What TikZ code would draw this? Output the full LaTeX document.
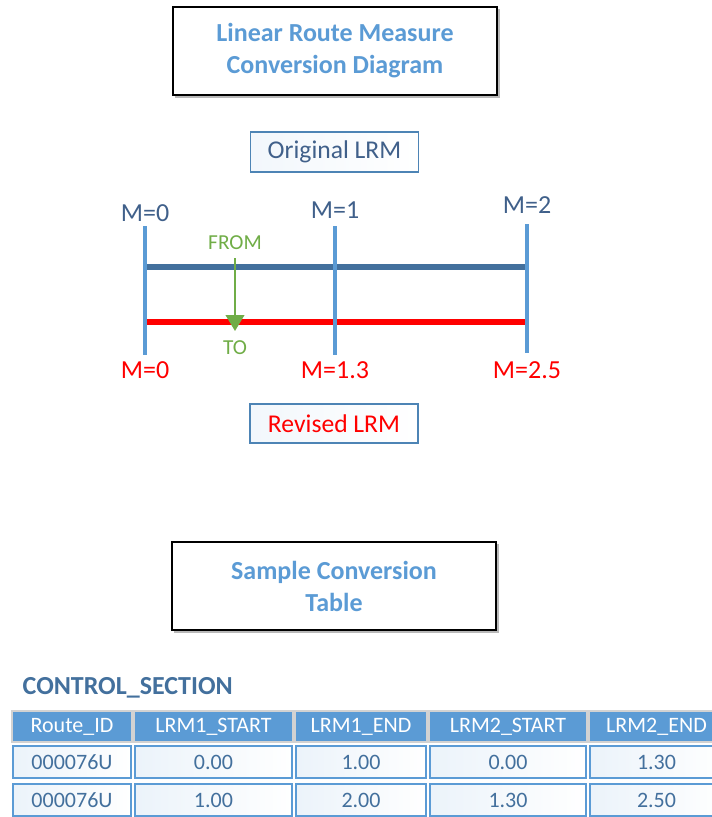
\documentclass[tikz,border=0pt]{standalone}
\usepackage{fontspec}
\setmainfont{Carlito}
\usetikzlibrary{arrows.meta}
\definecolor{lblue}{RGB}{91,155,213}
\definecolor{sblue}{RGB}{67,112,157}
\definecolor{tblue}{RGB}{64,96,138}
\definecolor{ggreen}{RGB}{112,173,71}
\definecolor{rred}{RGB}{255,0,0}
\tikzset{
  bigbox/.style={draw=black, line width=1.5pt, fill=white, minimum width=243pt, minimum height=66pt, align=center, text=lblue, font=\fontsize{19.5}{24}\selectfont\bfseries},
  lrmbox/.style={draw=lblue!85!black, line width=1.3pt, left color=lblue!8, right color=white, minimum width=126pt, minimum height=29.5pt, font=\fontsize{19.2}{22}\selectfont},
  mlab/.style={font=\fontsize{19.5}{22}\selectfont},
  small/.style={font=\fontsize{16}{18}\selectfont, text=ggreen},
  tick/.style={draw=lblue, line width=2.6pt},
  hcell/.style={draw=gray!35, line width=1.2pt, fill=lblue, text=white, font=\fontsize{16.5}{20}\selectfont, inner sep=0pt},
  dcell/.style={draw=lblue, line width=2pt, left color=lblue!12, right color=white, text=sblue, font=\fontsize{16.5}{20}\selectfont, inner sep=0pt},
}
\begin{document}
\begin{tikzpicture}[x=0.75pt, y=-0.75pt]
\useasboundingbox (0,0) rectangle (712,817);
% title boxes
\fill[gray!55] (175,9) rectangle (499.5,97.5);
\node[bigbox] (title) at (335,51) {Linear Route Measure\\Conversion Diagram};
\fill[gray!55] (174,544) rectangle (498.5,632.5);
\node[bigbox] (sample) at (334,586) {Sample Conversion\\Table};
% LRM boxes
\node[lrmbox, text=tblue] (orig) at (334.5,152) {Original LRM};
\node[lrmbox, text=rred] (rev) at (334,423.5) {Revised LRM};
% ticks
\coordinate (t0a) at (145,226); \coordinate (t0b) at (145,355);
\coordinate (t1a) at (335,226); \coordinate (t1b) at (335,355);
\coordinate (t2a) at (527,224); \coordinate (t2b) at (527,353);
% route lines
\coordinate (b0) at (145,267); \coordinate (b2) at (527,267);
\coordinate (r0) at (145,322); \coordinate (r2) at (527,322);
\draw[sblue, line width=5.2pt] (b0) -- (b2);
\draw[rred, line width=5.2pt] (r0) -- (r2);
\draw[tick] (t0a) -- (t0b);
\draw[tick] (t1a) -- (t1b);
\draw[tick] (t2a) -- (t2b);
% labels
\node[mlab, text=tblue] (m0) at (145,213) {M=0};
\node[mlab, text=tblue] (m1) at (335,210) {M=1};
\node[mlab, text=tblue] (m2) at (527,205) {M=2};
\node[mlab, text=rred] (n0) at (145,370) {M=0};
\node[mlab, text=rred] (n1) at (335,370) {M=1.3};
\node[mlab, text=rred] (n2) at (527,370) {M=2.5};
% from-to arrow
\node[small] (from) at (235,243) {FROM};
\node[small] (to) at (235,348) {TO};
\coordinate (fa) at (235,258);
\coordinate (ta) at (235,331);
\draw[ggreen, line width=1.3pt, -{Triangle[length=12pt,width=14pt]}] (fa) -- (ta);
% table
\node[anchor=west, text=sblue, font=\fontsize{19.5}{22}\selectfont\bfseries] (cs) at (18,688) {CONTROL\_SECTION};
\foreach \l/\r/\t [count=\i] in {12/132/Route\_ID, 134/293/LRM1\_START, 295/427/LRM1\_END, 429/587/LRM2\_START, 589/724/LRM2\_END}{
  \node[hcell, minimum width={(\r-\l)*0.75pt}, minimum height=23.5pt] (h\i) at ({(\l+\r)/2},726.5) {\t};
}
\foreach \l/\r/\a/\b [count=\i] in {12/132/000076U/000076U, 134/293/0.00/1.00, 295/427/1.00/2.00, 429/587/0.00/1.30, 589/724/1.30/2.50}{
  \node[dcell, minimum width={(\r-\l-2)*0.75pt}, minimum height=24pt] (ra\i) at ({(\l+\r)/2},762) {\a};
  \node[dcell, minimum width={(\r-\l-2)*0.75pt}, minimum height=24pt] (rb\i) at ({(\l+\r)/2},800) {\b};
}
\end{tikzpicture}
\end{document}
